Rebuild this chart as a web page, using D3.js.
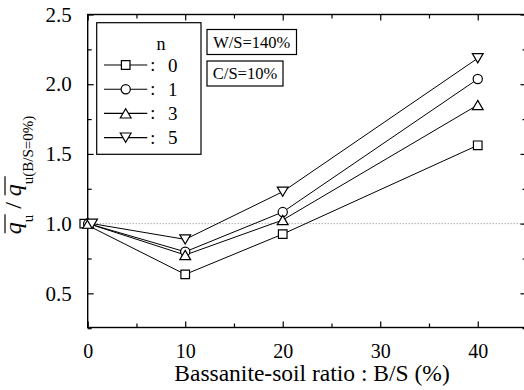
<!DOCTYPE html>
<html>
<head>
<meta charset="utf-8">
<script src="https://cdn.jsdelivr.net/npm/d3@7"></script>
<style>
  html, body { margin: 0; padding: 0; background: #fff; }
  svg text { font-family: "Liberation Serif", "Times New Roman", "DejaVu Serif", serif; fill: #000; }
</style>
</head>
<body>
<svg id="chart" width="524" height="390"></svg>
<script>
// ---- data ----
var nLabels = ["0", "1", "3", "5"];
var markerKinds = ["square", "circle", "triangleUp", "triangleDown"];
// B/S (%) for each series (the points at 0 % are slightly staggered in the figure)
var bsSquare = [-0.35, 10, 20, 40];
var bsCircle = [0.05, 10, 20, 40];
var bsTriUp = [0.05, 10, 20, 40];
var bsTriDown = [0.45, 10, 20, 40];
// normalised strength qu / qu(B/S=0%)
var qSquare = [1.0, 0.636, 0.925, 1.562];
var qCircle = [1.0, 0.798, 1.083, 2.037];
var qTriUp = [1.0, 0.775, 1.026, 1.851];
var qTriDown = [1.0, 0.887, 1.229, 2.186];
var xTicks = [0, 10, 20, 30, 40];
var xMinor = [5, 15, 25, 35];
var yTicks = [0.5, 1.0, 1.5, 2.0, 2.5];
var yMinor = [0.25, 0.75, 1.25, 1.75, 2.25];
var noteLabels = ["W/S=140%", "C/S=10%"];

var seriesX = [bsSquare, bsCircle, bsTriUp, bsTriDown];
var seriesY = [qSquare, qCircle, qTriUp, qTriDown];

var svg = d3.select("#chart");
var pLeft = 87.7, pRight = 526.5, pTop = 14.5, pBottom = 327.5;

var x = d3.scaleLinear().domain([0, 45]).range([pLeft, pRight]);
var y = d3.scaleLinear().domain([0.255, 2.5]).range([pBottom, pTop]);

// marker path centred on its bounding box
function markerPath(kind, cx, cy) {
  var p = d3.path();
  if (kind == "square") {
    var s = 4.3;
    p.rect(cx - s, cy - s, 2 * s, 2 * s);
  } else if (kind == "circle") {
    p.moveTo(cx + 4.6, cy);
    p.arc(cx, cy, 4.6, 0, 2 * Math.PI);
  } else if (kind == "triangleUp") {
    p.moveTo(cx, cy - 4.6);
    p.lineTo(cx + 5.4, cy + 4.6);
    p.lineTo(cx - 5.4, cy + 4.6);
    p.closePath();
  } else {
    p.moveTo(cx, cy + 4.6);
    p.lineTo(cx + 5.4, cy - 4.6);
    p.lineTo(cx - 5.4, cy - 4.6);
    p.closePath();
  }
  return p.toString();
}

// dotted reference at 1.0
svg.append("line")
  .attr("x1", pLeft).attr("x2", pRight)
  .attr("y1", y(1)).attr("y2", y(1))
  .attr("stroke", "#888").attr("stroke-width", 1)
  .attr("stroke-dasharray", "1,2");

// axes: ticks point inwards on all four sides
svg.append("g").attr("transform", "translate(0," + pBottom + ")")
  .call(d3.axisBottom(x).tickValues(xTicks).tickSize(-6).tickPadding(16).tickFormat(d3.format("d")));
svg.append("g").attr("transform", "translate(0," + pBottom + ")")
  .call(d3.axisBottom(x).tickValues(xMinor).tickSize(-4).tickFormat(""));
svg.append("g").attr("transform", "translate(0," + pTop + ")")
  .call(d3.axisTop(x).tickValues(xTicks).tickSize(-6).tickFormat(""));
svg.append("g").attr("transform", "translate(0," + pTop + ")")
  .call(d3.axisTop(x).tickValues(xMinor).tickSize(-4).tickFormat(""));
svg.append("g").attr("class", "yleft").attr("transform", "translate(" + pLeft + ",0)")
  .call(d3.axisLeft(y).tickValues(yTicks).tickSize(-6).tickPadding(16).tickFormat(d3.format(".1f")));
svg.append("g").attr("transform", "translate(" + pLeft + ",0)")
  .call(d3.axisLeft(y).tickValues(yMinor).tickSize(-4).tickFormat(""));
svg.append("g").attr("transform", "translate(" + pRight + ",0)")
  .call(d3.axisRight(y).tickValues(yTicks).tickSize(-6).tickFormat(""));
svg.append("g").attr("transform", "translate(" + pRight + ",0)")
  .call(d3.axisRight(y).tickValues(yMinor).tickSize(-4).tickFormat(""));

svg.selectAll(".domain").remove();
svg.selectAll(".tick line").attr("stroke", "#000").attr("stroke-width", 1.2);
svg.selectAll(".tick text").attr("font-family", null).attr("font-size", 20).attr("fill", "#000");
svg.selectAll(".yleft .tick text").attr("font-size", 21);

// frame
svg.append("rect")
  .attr("x", pLeft).attr("y", pTop)
  .attr("width", pRight - pLeft).attr("height", pBottom - pTop)
  .attr("fill", "none").attr("stroke", "#000").attr("stroke-width", 1.4);

// series
var line = d3.line();
markerKinds.forEach(function(kind, i) {
  var pts = seriesX[i].map(function(v, j) { return [x(v), y(seriesY[i][j])]; });
  svg.append("path")
    .attr("d", line(pts))
    .attr("fill", "none").attr("stroke", "#000").attr("stroke-width", 1);
});
markerKinds.forEach(function(kind, i) {
  seriesX[i].forEach(function(v, j) {
    svg.append("path")
      .attr("d", markerPath(kind, x(v), y(seriesY[i][j])))
      .attr("fill", "#fff").attr("stroke", "#000").attr("stroke-width", 1.2);
  });
});

// legend
var lg = svg.append("g");
lg.append("rect").attr("x", 96.7).attr("y", 22.7).attr("width", 104.3).attr("height", 131.6)
  .attr("fill", "#fff").attr("stroke", "#000").attr("stroke-width", 1.2);
lg.append("text").attr("x", 161).attr("y", 50).attr("text-anchor", "middle")
  .attr("font-size", 18).text("n");
nLabels.forEach(function(lab, i) {
  var ry = 65 + i * 24.2;
  lg.append("line").attr("x1", 104).attr("x2", 147.3).attr("y1", ry).attr("y2", ry)
    .attr("stroke", "#000").attr("stroke-width", 1.1);
  lg.append("path").attr("d", markerPath(markerKinds[i], 125.7, ry))
    .attr("fill", "#fff").attr("stroke", "#000").attr("stroke-width", 1.2);
  lg.append("text").attr("x", 152.7).attr("y", ry + 6).attr("text-anchor", "middle")
    .attr("font-size", 18).text(":");
  lg.append("text").attr("x", 172.7).attr("y", ry + 6.5).attr("text-anchor", "middle")
    .attr("font-size", 19).text(lab);
});

// condition boxes
var boxW = [89.5, 76];
noteLabels.forEach(function(t, i) {
  var by = 29.5 + i * 31.5;
  svg.append("rect").attr("x", 207).attr("y", by).attr("width", boxW[i]).attr("height", 25)
    .attr("fill", "#fff").attr("stroke", "#000").attr("stroke-width", 1.2);
  svg.append("text").attr("x", 207 + boxW[i] / 2).attr("y", by + 18).attr("text-anchor", "middle")
    .attr("font-size", 16.5).text(t);
});

// x title
svg.append("text").attr("x", 312).attr("y", 381).attr("text-anchor", "middle")
  .attr("font-size", 23.5).text("Bassanite-soil ratio : B/S (%)");

// y title: q̄u / q̄u(B/S=0%) drawn piece by piece, rotated
var yt = svg.append("g").attr("transform", "translate(0,175) rotate(-90)");
var inner = yt.append("g");
var pieces = [
  { t: "q", size: 24, italic: true, base: 21, bar: true },
  { t: "u", size: 15, italic: false, base: 33 },
  { t: " / ", size: 24, italic: false, base: 21 },
  { t: "q", size: 24, italic: true, base: 21, bar: true },
  { t: "u(B/S=0%)", size: 15, italic: false, base: 33 }
];
var cx = 0;
pieces.forEach(function(p) {
  var el = inner.append("text").attr("x", cx).attr("y", p.base)
    .attr("font-size", p.size).attr("font-style", p.italic ? "italic" : "normal").text(p.t)
    .attr("xml:space", "preserve");
  var w = el.node().getComputedTextLength();
  if (p.bar) {
    inner.append("line").attr("x1", cx + 1).attr("x2", cx + w + 8).attr("y1", 5).attr("y2", 5)
      .attr("stroke", "#000").attr("stroke-width", 1.2);
  }
  cx += w;
});
inner.attr("transform", "translate(" + (-cx / 2) + ",0)");
</script>
</body>
</html>
